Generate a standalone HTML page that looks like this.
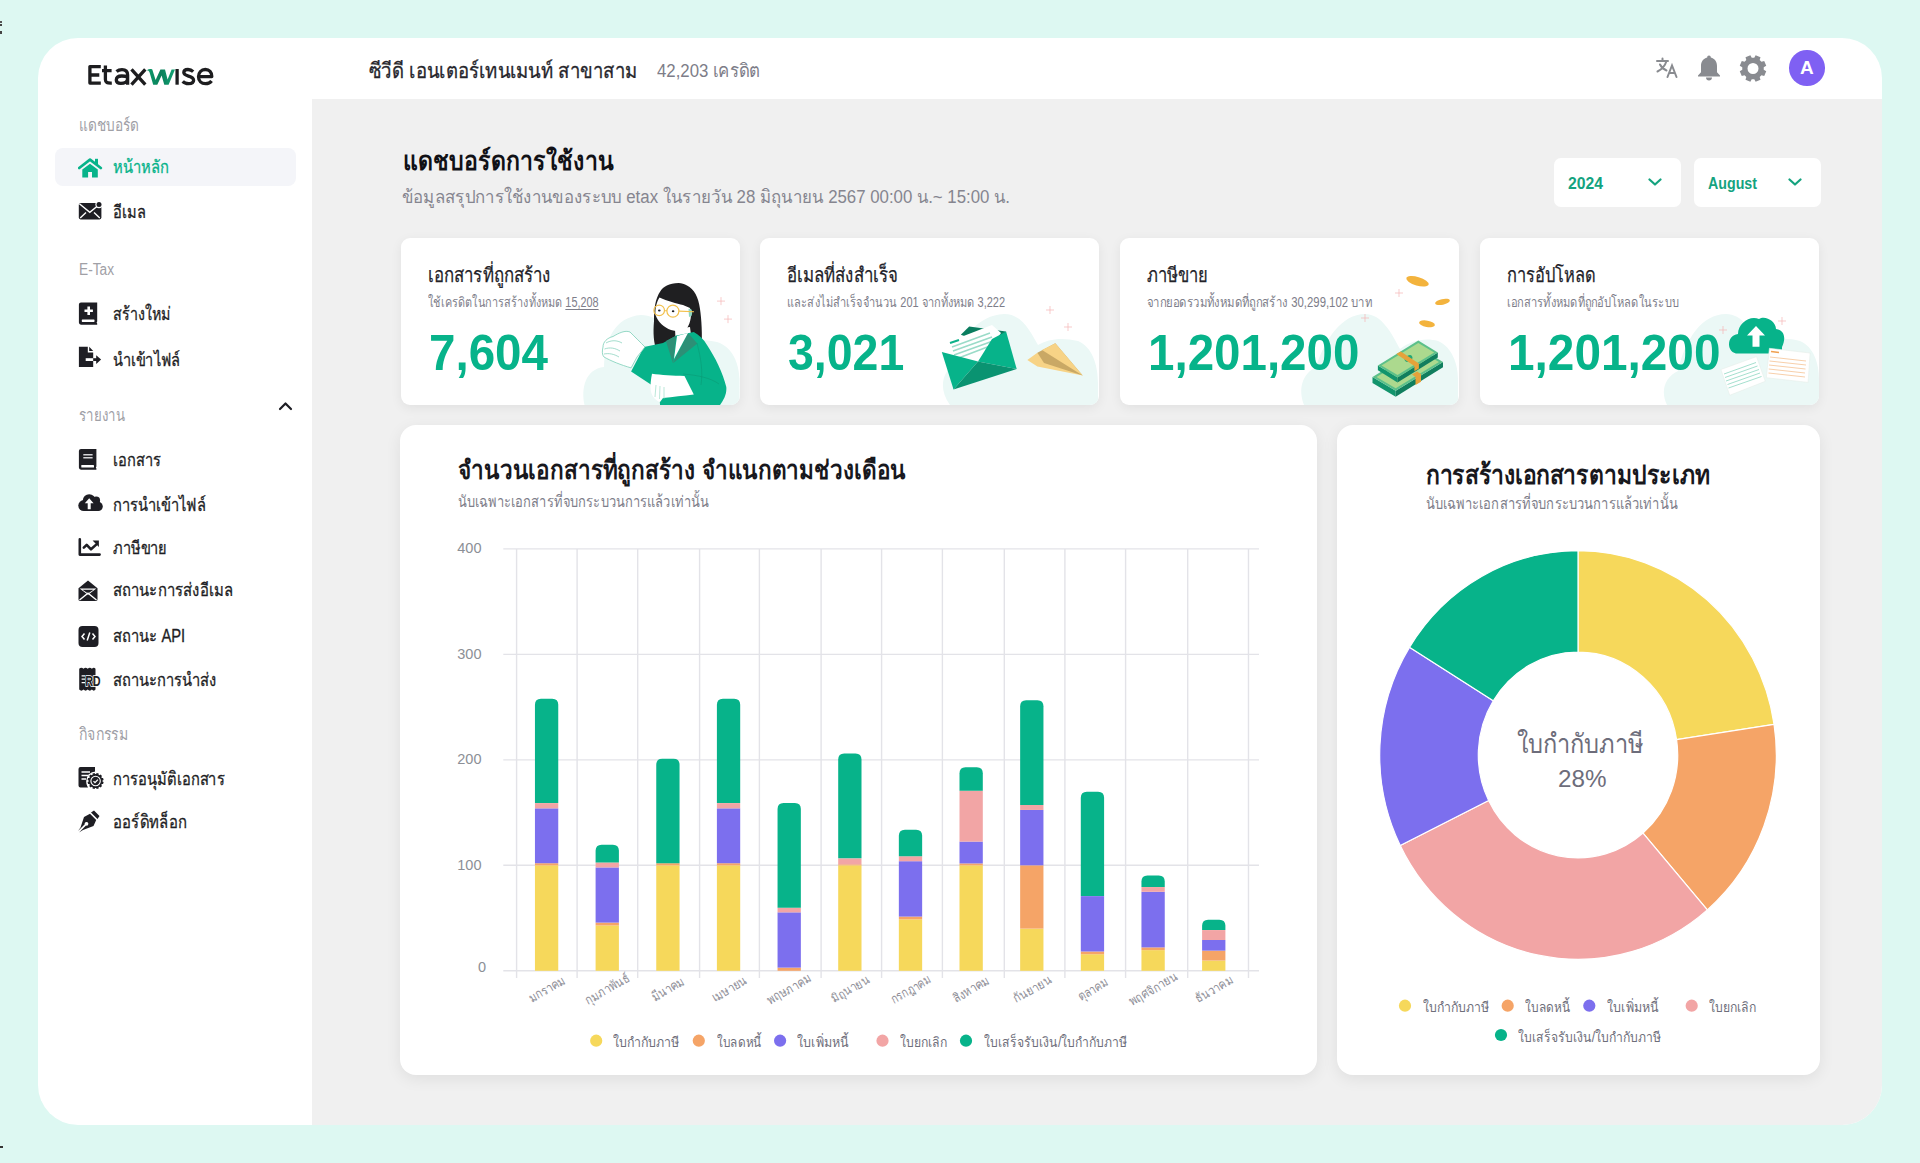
<!DOCTYPE html><html><head><meta charset="utf-8"><title>Etaxwise Dashboard</title><style>
*{margin:0;padding:0;box-sizing:border-box}
html,body{width:1920px;height:1163px;overflow:hidden}
body{background:#ddf8f2;font-family:"Liberation Sans",sans-serif;position:relative}
.panel{position:absolute;left:38px;top:38px;width:1843.5px;height:1087px;background:#fff;border-radius:40px}
.content{position:absolute;left:312px;top:99px;width:1569.5px;height:1026px;background:#f0f0f0;border-bottom-right-radius:40px}
.t{position:absolute;white-space:nowrap;transform-origin:0 50%;display:block}
.logo{position:absolute;font-weight:700;font-size:28px;line-height:28px;color:#1e1e22;white-space:nowrap;letter-spacing:0.2px}
.logo .w{color:#109a6c;font-style:italic;display:inline-block;transform:skewX(-6deg);margin:0 -1px 0 -1px}
.avatar{position:absolute;left:1789px;top:50px;width:35.5px;height:35.5px;border-radius:50%;background:#7f60f3;color:#fff;font-weight:700;font-size:19px;line-height:35.5px;text-align:center}
.active{position:absolute;left:54.5px;top:148px;width:241.5px;height:38px;border-radius:8px;background:#f4f5f9}
.dd{position:absolute;top:158.3px;height:48.8px;background:#fff;border-radius:7px}
.card{position:absolute;top:238.2px;width:339px;height:166.8px;background:#fff;border-radius:9px;box-shadow:0 3px 12px rgba(0,0,0,0.065);overflow:hidden}
.bigcard{position:absolute;top:425.3px;height:650.2px;background:#fff;border-radius:16px;box-shadow:0 4px 16px rgba(0,0,0,0.075)}
.ov{position:absolute;left:0;top:0;pointer-events:none}
.yl{font-size:14.5px;line-height:15px;color:#8c8f96;text-align:right}
.xl{position:absolute;white-space:nowrap;font-size:13px;line-height:13px;color:#8d8d96;transform:translate(-50%,-50%) rotate(-30deg)}
u{text-decoration:underline;text-underline-offset:2px}
</style></head><body><div class="panel"></div>
<div style="position:absolute;left:0;top:21px;width:1.6px;height:2px;background:#555"></div><div style="position:absolute;left:0;top:24px;width:1.6px;height:2px;background:#444"></div><div style="position:absolute;left:0;top:31.2px;width:1.6px;height:2.4px;background:#444"></div><div style="position:absolute;left:0;top:1146px;width:3px;height:1.6px;background:#333"></div>
<div class="content"></div>
<svg style="position:absolute;left:0;top:0" width="230" height="100" viewBox="0 0 230 100">
<defs><linearGradient id="lg" x1="0" y1="0" x2="1" y2="0"><stop offset="0" stop-color="#0c9a6a"/><stop offset="0.5" stop-color="#0b7f5a"/><stop offset="1" stop-color="#12a676"/></linearGradient></defs>
<g fill="none" stroke="#1d1d1f" stroke-width="3.3" stroke-linecap="butt" stroke-linejoin="round">
<path d="M100.8 66.6 H89.9 V83.1 H100.8 M89.9 75 H99.3"/>
<path d="M105.4 65.6 V79.5 C105.4 82.6 107 83.3 111.8 83.1 M102 70.6 H111.6"/>
<path d="M116.5 71.5 C118.3 70 120 69.6 122 69.6 C125.5 69.6 127.6 71.4 127.6 75 V84.7 M127.6 78.5 C127.6 76.6 124.8 76 121.8 76 C118 76 116.3 77.6 116.3 80 C116.3 82.3 118 83.4 120.8 83.4 C124.6 83.4 127.6 81.5 127.6 78.5"/>
<path d="M131.5 69.3 L145.3 84.7 M145.3 69.3 L131.5 84.7"/>
<path d="M177.1 69 V84.7"/>
<path d="M193.2 71.6 C191.5 70 189.8 69.5 188 69.5 C185 69.5 183.8 71 183.8 72.6 C183.8 77 193.6 75.2 193.6 80.2 C193.6 82.4 191.6 83.6 188.6 83.6 C186 83.6 184 82.7 182.7 81.3"/>
<path d="M198.9 76.6 H211.8 C211.8 72.4 209.3 69.5 205.3 69.5 C201.3 69.5 198.5 72.6 198.5 76.8 C198.5 81 201.5 83.7 205.6 83.7 C208.2 83.7 210.2 82.7 211.6 80.9"/>
</g>
<path fill="url(#lg)" d="M146.9 70.3 C148.5 69 150.3 68.8 152.3 69.4 L155.6 80 L160.4 69.4 L165 69.4 L167.6 79.4 L171.6 69.4 L175 69.4 L168.6 84.7 L164.3 84.7 L161.6 75.5 L157.3 84.7 L153.2 84.7 L149.6 72.4 C149 71 148 70.4 146.9 70.3 Z"/>
</svg>
<span class="t" style="left:369.0px;top:59.5px;font-size:21px;line-height:21px;font-weight:400;color:#26262c;-webkit-text-stroke:0.3px #26262c;--w:268.7;transform:scaleX(0.8819);">ซีวีดี เอนเตอร์เทนเมนท์ สาขาสาม</span>
<span class="t" style="left:657.2px;top:61.1px;font-size:19px;line-height:19px;font-weight:400;color:#7d7d88;--w:103;transform:scaleX(0.8848);">42,203 เครดิต</span>
<svg style="position:absolute;left:1654px;top:55px" width="26" height="26" viewBox="0 0 26 26">
<g fill="none" stroke="#898b90" stroke-width="2" stroke-linecap="round">
<path d="M3 6 H14 M8.5 3.5 V6 M12.5 6 C11 11 7.5 14.5 3.5 16.5 M6 9.5 C7.5 12.5 10 14.5 12.5 15.5"/>
<path d="M13.5 22 L18 10.5 L22.5 22 M15.2 18 H20.8"/>
</g></svg>
<svg style="position:absolute;left:1697px;top:54px" width="24" height="28" viewBox="0 0 24 28">
<path fill="#898b90" d="M12 1.5 c1.2 0 1.8.8 1.8 1.9 c4 .9 6.2 4.4 6.2 8.6 v6.2 l3 3.3 v1 H1 v-1 l3-3.3 V12 c0-4.2 2.2-7.7 6.2-8.6 C10.2 2.3 10.8 1.5 12 1.5z M9 23.5 h6 c0 1.8-1.3 3-3 3 s-3-1.2-3-3z"/></svg>
<svg style="position:absolute;left:1738px;top:54px" width="30" height="30" viewBox="0 0 30 30"><path fill="#898b90" fill-rule="evenodd" d="M16.27 3.77 L17.63 1.26 L22.50 3.28 L21.69 6.02 L23.48 7.81 L26.22 7.00 L28.24 11.87 L25.73 13.23 L25.73 15.77 L28.24 17.13 L26.22 22.00 L23.48 21.19 L21.69 22.98 L22.50 25.72 L17.63 27.74 L16.27 25.23 L13.73 25.23 L12.37 27.74 L7.50 25.72 L8.31 22.98 L6.52 21.19 L3.78 22.00 L1.76 17.13 L4.27 15.77 L4.27 13.23 L1.76 11.87 L3.78 7.00 L6.52 7.81 L8.31 6.02 L7.50 3.28 L12.37 1.26 L13.73 3.77Z M20.50 14.50 A5.5 5.5 0 1 0 9.50 14.50 A5.5 5.5 0 1 0 20.50 14.50Z"/></svg>
<div class="avatar">A</div>
<div class="active"></div>
<span class="t" style="left:78.5px;top:116.9px;font-size:17px;line-height:17px;font-weight:400;color:#a0a0a6;--w:60.2;transform:scaleX(0.8027);">แดชบอร์ด</span>
<span class="t" style="left:78.5px;top:262.1px;font-size:16px;line-height:16px;font-weight:400;color:#a0a0a6;--w:35;transform:scaleX(0.8556);">E-Tax</span>
<span class="t" style="left:78.5px;top:407.2px;font-size:17px;line-height:17px;font-weight:400;color:#a0a0a6;--w:46;transform:scaleX(0.7797);">รายงาน</span>
<span class="t" style="left:78.5px;top:725.5px;font-size:17px;line-height:17px;font-weight:400;color:#a0a0a6;--w:48.8;transform:scaleX(0.8271);">กิจกรรม</span>
<span class="t" style="left:112.5px;top:158.2px;font-size:18px;line-height:18px;font-weight:400;color:#07b38a;-webkit-text-stroke:0.3px #07b38a;--w:55.8;transform:scaleX(0.8206);">หน้าหลัก</span>
<span class="t" style="left:112.5px;top:203.4px;font-size:18px;line-height:18px;font-weight:400;color:#1e1e24;-webkit-text-stroke:0.3px #1e1e24;--w:32.5;transform:scaleX(0.8125);">อีเมล</span>
<span class="t" style="left:112.5px;top:305.0px;font-size:18px;line-height:18px;font-weight:400;color:#1e1e24;-webkit-text-stroke:0.3px #1e1e24;--w:57.8;transform:scaleX(0.7918);">สร้างใหม่</span>
<span class="t" style="left:112.5px;top:350.7px;font-size:18px;line-height:18px;font-weight:400;color:#1e1e24;-webkit-text-stroke:0.3px #1e1e24;--w:67.4;transform:scaleX(0.812);">นำเข้าไฟล์</span>
<span class="t" style="left:112.5px;top:451.4px;font-size:18px;line-height:18px;font-weight:400;color:#1e1e24;-webkit-text-stroke:0.3px #1e1e24;--w:48;transform:scaleX(0.8136);">เอกสาร</span>
<span class="t" style="left:112.5px;top:495.7px;font-size:18px;line-height:18px;font-weight:400;color:#1e1e24;-webkit-text-stroke:0.3px #1e1e24;--w:93;transform:scaleX(0.8158);">การนำเข้าไฟล์</span>
<span class="t" style="left:112.5px;top:538.5px;font-size:18px;line-height:18px;font-weight:400;color:#1e1e24;-webkit-text-stroke:0.3px #1e1e24;--w:54.4;transform:scaleX(0.8119);">ภาษีขาย</span>
<span class="t" style="left:112.5px;top:581.4px;font-size:18px;line-height:18px;font-weight:400;color:#1e1e24;-webkit-text-stroke:0.3px #1e1e24;--w:120;transform:scaleX(0.8276);">สถานะการส่งอีเมล</span>
<span class="t" style="left:112.5px;top:627.3px;font-size:18px;line-height:18px;font-weight:400;color:#1e1e24;-webkit-text-stroke:0.3px #1e1e24;--w:72.2;transform:scaleX(0.8203);">สถานะ API</span>
<span class="t" style="left:112.5px;top:670.5px;font-size:18px;line-height:18px;font-weight:400;color:#1e1e24;-webkit-text-stroke:0.3px #1e1e24;--w:103.8;transform:scaleX(0.8173);">สถานะการนำส่ง</span>
<span class="t" style="left:112.5px;top:769.7px;font-size:18px;line-height:18px;font-weight:400;color:#1e1e24;-webkit-text-stroke:0.3px #1e1e24;--w:111.8;transform:scaleX(0.8161);">การอนุมัติเอกสาร</span>
<span class="t" style="left:112.5px;top:812.7px;font-size:18px;line-height:18px;font-weight:400;color:#1e1e24;-webkit-text-stroke:0.3px #1e1e24;--w:73.8;transform:scaleX(0.8292);">ออร์ดิทล็อก</span>
<svg style="position:absolute;left:278px;top:400px" width="15" height="12" viewBox="0 0 15 12"><path d="M2 9 L7.5 3.5 L13 9" fill="none" stroke="#1e1e24" stroke-width="2.2" stroke-linecap="round" stroke-linejoin="round"/></svg>
<svg style="position:absolute;left:78px;top:157px" width="25" height="22" viewBox="0 0 25 22"><path fill="none" stroke="#07b38a" stroke-width="2.7" stroke-linecap="round" stroke-linejoin="round" d="M1.2 11 L12 2.6 L22.8 11"/><rect x="17" y="1.8" width="3" height="6" fill="#07b38a"/><path fill="#07b38a" d="M4.3 12.6 L12 6.7 L19.8 12.6 V20.5 H14 V15 H10.1 V20.5 H4.3 Z"/></svg>
<svg style="position:absolute;left:78px;top:201px" width="26" height="20" viewBox="0 0 26 20"><rect x="0.8" y="1.9" width="22.6" height="16.5" rx="1.8" fill="#1e1e24"/><path fill="none" stroke="#fff" stroke-width="1.4" d="M1.4 2.8 L11.8 11.3 L19.8 4.8 M2.2 17 L8 11.6 M21.8 17 L16 11.6"/><circle cx="21" cy="3.6" r="3.6" fill="#fff"/><circle cx="21" cy="3.6" r="2.5" fill="#1e1e24"/></svg>
<svg style="position:absolute;left:78px;top:302px" width="20" height="24" viewBox="0 0 20 24"><path fill="#1e1e24" d="M3 0.5 H19.2 V19.5 L18.6 20.5 L19.2 21.5 V22.8 H3 A2.2 2.2 0 0 1 0.9 20.6 V2.6 A2.1 2.1 0 0 1 3 0.5Z"/><rect x="3.8" y="17.5" width="12.7" height="2.4" rx="0.6" fill="#fff"/><path stroke="#fff" stroke-width="2.6" d="M10.7 4.5 V13 M6.5 8.8 H14.9"/></svg>
<svg style="position:absolute;left:78px;top:345px" width="25" height="23" viewBox="0 0 25 23"><path fill="#1e1e24" d="M0.9 1.7 H9.8 V7.4 H15.2 V21.9 H0.9 Z M11.2 1.7 L15.2 5.9 H11.2Z"/><rect x="7.7" y="13.2" width="7.5" height="2.8" fill="#fff"/><rect x="15.2" y="13.2" width="3.8" height="2.8" fill="#1e1e24"/><path fill="#1e1e24" d="M18.2 10.2 L23.1 14.6 L18.2 19Z"/></svg>
<svg style="position:absolute;left:78px;top:448px" width="20" height="23" viewBox="0 0 20 23"><path fill="#1e1e24" d="M3 0.9 H18.4 V18.6 L17.8 19.6 L18.4 20.6 V21.8 H3 A2.2 2.2 0 0 1 0.9 19.6 V3 A2.1 2.1 0 0 1 3 0.9Z"/><rect x="3.3" y="17" width="12.7" height="2.6" rx="0.6" fill="#fff"/><path stroke="#d4d4d8" stroke-width="1.6" d="M5.3 6.7 H14.6 M5.3 9.8 H14.6"/></svg>
<svg style="position:absolute;left:78px;top:492px" width="26" height="20" viewBox="0 0 26 20"><g fill="#1e1e24"><circle cx="5.8" cy="13.6" r="5.5"/><circle cx="11.2" cy="8.6" r="6.4"/><circle cx="18.2" cy="8.4" r="3.9"/><circle cx="20.2" cy="14.4" r="4.6"/><rect x="5.8" y="9" width="14.5" height="10"/></g><path fill="#fff" d="M11.2 6.3 L15.6 11.2 H12.7 V17.2 H9.7 V11.2 H6.8Z"/></svg>
<svg style="position:absolute;left:78px;top:538px" width="24" height="19" viewBox="0 0 24 19"><path fill="none" stroke="#1e1e24" stroke-width="2.6" stroke-linecap="round" stroke-linejoin="round" d="M1.8 1.4 V16.6 H21.6"/><path fill="none" stroke="#1e1e24" stroke-width="2.6" stroke-linecap="round" stroke-linejoin="round" d="M5.8 9.7 L8.7 6.8 L13 11.3 L18.2 6.6"/><path fill="#1e1e24" d="M14.6 2.6 H20.9 V8.9 Z"/></svg>
<svg style="position:absolute;left:78px;top:579px" width="21" height="23" viewBox="0 0 21 23"><path fill="#1e1e24" d="M0.5 9.2 L10 1.4 L19.5 9.2 V20.6 A1.4 1.4 0 0 1 18.1 22 H1.9 A1.4 1.4 0 0 1 0.5 20.6 Z"/><path fill="#fff" d="M1.6 9.6 H18.4 L10 15.8 Z"/><path fill="#1e1e24" d="M4.5 10.8 H15.5 L10 14.6 Z"/><path fill="none" stroke="#fff" stroke-width="1.3" d="M1.5 21 L10 14.2 L18.5 21"/></svg>
<svg style="position:absolute;left:78px;top:625px" width="22" height="23" viewBox="0 0 22 23"><rect x="0.5" y="1" width="20" height="21" rx="4" fill="#1e1e24"/><path fill="none" stroke="#fff" stroke-width="1.5" d="M6.5 8.5 L4 11.5 L6.5 14.5 M14.5 8.5 L17 11.5 L14.5 14.5 M11.8 7.5 L9.2 15.5"/></svg>
<svg style="position:absolute;left:78px;top:667px" width="26" height="25" viewBox="0 0 26 25"><path fill="#1e1e24" d="M1.2 1.8 Q3.4 -0.4 5.5 1.8 Q7.6 -0.4 9.7 1.8 Q11.8 -0.4 13.9 1.8 Q15.9 -0.4 17.5 1.8 V22.6 Q15.9 24.8 13.9 22.6 Q11.8 24.8 9.7 22.6 Q7.6 24.8 5.5 22.6 Q3.4 24.8 1.2 22.6 Z"/><path stroke="#fff" stroke-width="1.3" d="M3.6 8.9 H7 M3.6 12.2 H7 M3.6 15.7 H7"/><text transform="scale(0.72 1)" x="10.1" y="19.2" font-family="Liberation Sans" font-size="15" font-weight="700" fill="#1e1e24" stroke="#fff" stroke-width="1.5" paint-order="stroke" letter-spacing="-0.4">RD</text></svg>
<svg style="position:absolute;left:78px;top:766px" width="27" height="25" viewBox="0 0 27 25"><path fill="#1e1e24" d="M2.5 1 H17 V9 A8 8 0 0 0 10 21.5 H2.5 A2 2 0 0 1 0.5 19.5 V3 A2 2 0 0 1 2.5 1Z"/><path stroke="#fff" stroke-width="1.5" d="M3.5 6 H12 M3.5 9.5 H10 M3.5 13 H8"/><circle cx="17.6" cy="15" r="9.4" fill="#fff"/><path fill="#1e1e24" fill-rule="evenodd" d="M18.14 8.12 L18.66 6.97 L20.70 7.52 L20.57 8.77 L21.51 9.31 L22.53 8.57 L24.03 10.07 L23.29 11.09 L23.83 12.03 L25.08 11.90 L25.63 13.94 L24.48 14.46 L24.48 15.54 L25.63 16.06 L25.08 18.10 L23.83 17.97 L23.29 18.91 L24.03 19.93 L22.53 21.43 L21.51 20.69 L20.57 21.23 L20.70 22.48 L18.66 23.03 L18.14 21.88 L17.06 21.88 L16.54 23.03 L14.50 22.48 L14.63 21.23 L13.69 20.69 L12.67 21.43 L11.17 19.93 L11.91 18.91 L11.37 17.97 L10.12 18.10 L9.57 16.06 L10.72 15.54 L10.72 14.46 L9.57 13.94 L10.12 11.90 L11.37 12.03 L11.91 11.09 L11.17 10.07 L12.67 8.57 L13.69 9.31 L14.63 8.77 L14.50 7.52 L16.54 6.97 L17.06 8.12Z M17.70 15.00 A0.1 0.1 0 1 0 17.50 15.00 A0.1 0.1 0 1 0 17.70 15.00Z"/><circle cx="17.6" cy="15" r="4.7" fill="none" stroke="#fff" stroke-width="1.1"/><path d="M15.5 15.1 L17 16.6 L19.9 13.6" fill="none" stroke="#fff" stroke-width="1.3"/></svg>
<svg style="position:absolute;left:78px;top:810px" width="22" height="23" viewBox="0 0 22 23"><path fill="#1e1e24" d="M13 2.5 L16 0.5 L21.5 6 L19.5 9 Z M12 3.8 L18.2 10 L15.5 16 L5 20 L1 22.5 L8 15.5 A1.8 1.8 0 1 0 6.8 14.3 L-0.2 21.3 L2.5 17.5 L6 7Z"/></svg>
<span class="t" style="left:402.5px;top:147.6px;font-size:26px;line-height:26px;font-weight:700;color:#111116;--w:210.8;transform:scaleX(0.8857);">แดชบอร์ดการใช้งาน</span>
<span class="t" style="left:402.3px;top:187.7px;font-size:18px;line-height:18px;font-weight:400;color:#85858f;--w:608;transform:scaleX(0.9344);">ข้อมูลสรุปการใช้งานของระบบ etax ในรายวัน 28 มิถุนายน 2567 00:00 น.~ 15:00 น.</span>
<div class="dd" style="left:1553.5px;width:127.3px"></div>
<span class="t" style="left:1567.5px;top:175.0px;font-size:16.5px;line-height:16.5px;font-weight:700;color:#14a37f;--w:35;transform:scaleX(0.9532);">2024</span>
<svg style="position:absolute;left:1647.5px;top:176px" width="14" height="12" viewBox="0 0 14 12"><path d="M1.5 3.5 L7 8.5 L12.5 3.5" fill="none" stroke="#14a37f" stroke-width="2.2" stroke-linecap="round" stroke-linejoin="round"/></svg>
<div class="dd" style="left:1694px;width:126.6px"></div>
<span class="t" style="left:1708.0px;top:175.0px;font-size:16.5px;line-height:16.5px;font-weight:700;color:#14a37f;--w:49;transform:scaleX(0.8622);">August</span>
<svg style="position:absolute;left:1788px;top:176px" width="14" height="12" viewBox="0 0 14 12"><path d="M1.5 3.5 L7 8.5 L12.5 3.5" fill="none" stroke="#14a37f" stroke-width="2.2" stroke-linecap="round" stroke-linejoin="round"/></svg>
<div class="card" style="left:401px"><svg width="339" height="166" viewBox="0 0 339 166" style="position:absolute;left:0;top:0.8px">
<path fill="#ebf8f6" d="M183.5 166 C180 150 184 130 203 128 C204 100 214 78 240 76 C258 76 266 90 270 104 C282 100 300 100 316 103 C332 108 338 125 338.5 140 L338.5 166 Z"/>
<path d="M316 62.1 H324 M320 58.1 V66.1" stroke="#f5b4b4" stroke-width="0.7"/> <path d="M323 80.1 H331 M327 76.1 V84.1" stroke="#f5b4b4" stroke-width="0.7"/>
<path fill="#1f1f21" d="M277.7 44.1 C268 44.5 262 48 259.5 52 C254 60 253 70 253 82 C252 94 252.5 104 256 112 L261 117 L300.5 110 C301.5 96 300.5 80 299 70 C297.5 58 293 50 286 46.5 C283.5 45 280.5 44.1 277.7 44.1 Z"/>
<path fill="#ffffff" d="M258.5 58.5 C266 62 276 64.5 282 66 L289 69 C291 75 290 84 285.5 90 C281 92.5 275 92.5 270 91 C263 88.5 257 83 254.5 76 C254 70 255.5 63 258.5 58.5 Z"/>
<path fill="#ffffff" d="M274 90 L289 88 L290 96 L293 106 L275 110 Z"/>
<path fill="#8fd6c0" d="M287.5 70 C291 69 292 73 290.5 77 L288 78 Z"/>
<circle cx="258.2" cy="71.4" r="5.3" fill="none" stroke="#f2c14e" stroke-width="1.2"/>
<circle cx="271.9" cy="72.1" r="6" fill="none" stroke="#f2c14e" stroke-width="1.2"/>
<path d="M263.5 71.7 H266 M277.9 72.1 L293 72.8" stroke="#f2c14e" stroke-width="1.1"/>
<path fill="#1f1f21" d="M257 71.5 a1.3 1 0 1 0 2.6 0 a1.3 1 0 1 0 -2.6 0Z M270.8 72.3 a1.3 1 0 1 0 2.6 0 a1.3 1 0 1 0 -2.6 0Z"/>
<path fill="#07b38a" d="M275.4 96.4 L292.8 92.9 C298 96 303 100 306 106 C314 118 322 134 325.3 148 C326 156 322 162 318.3 167 L259.1 167 L258 150 L251 146.3 L230.1 132.4 L242.9 108 L262 104 Z"/>
<path fill="#2d8f76" d="M264.9 102 L275.4 96.4 L272 124.3 Z M287 94 L296.3 104.5 L271.9 124.3 Z"/>
<path fill="#ffffff" d="M276 97 L287 94 L273 120 Z"/>
<path fill="none" stroke="#0a9a76" stroke-width="0.6" d="M296 104 C300 120 302 132 300 146 M282 135 C296 136 310 139 318 145"/>
<path fill="#ffffff" stroke="#7ccfb8" stroke-width="0.8" d="M244 108 C240 104 234 98 229 93 C224 91 218 94 212 97.5 C206 99 202 103 202 108 C201 112 201 116 203 118 C210 122 220 126 230.1 128.9 L236 118 Z"/>
<path fill="none" stroke="#7ccfb8" stroke-width="0.7" d="M205 104 C210 101 216 101 221 104 M203.5 110 C209 108 214 109 219 112 M203 115 C208 114 213 115 218 118"/>
<path fill="#ffffff" d="M251 134.7 C260 136 272 136.5 283.5 137 L292.8 155.6 C282 157 272 158 262 159 L259 163 C255 162 251 158 249.8 152.1 C249 146 250 140 251 134.7 Z"/>
<path fill="none" stroke="#8fd6c0" stroke-width="0.6" d="M255 146 L254 158 M259 147 L258.5 160 M263 148 L263 160"/>
</svg></div>
<div class="card" style="left:760px"><svg width="339" height="166" viewBox="0 0 339 166" style="position:absolute;left:0;top:0.8px">
<path fill="#ebf8f6" d="M190 166 C178 150 182 132 196 124 C200 100 218 76 244 75 C262 75 270 92 278 106 C288 100 302 98 318 102 C332 108 338 125 338 145 L338 166 Z"/>
<path d="M286 71 H294 M290 67 V75" stroke="#f5b4b4" stroke-width="0.7"/> <path d="M304 88 H312 M308 84 V92" stroke="#f5b4b4" stroke-width="0.7"/>
<path fill="#0a7d5f" d="M200.8 95.8 L209.2 87.4 L246 92.4 L240 110 Z"/>
<path fill="#ffffff" d="M188 103 L232 86 L241 94 L222 122 L194 120 Z"/>
<path stroke="#9adbc8" stroke-width="1.6" d="M192 108 L230 94 M193 112 L232 98 M194 116 L233 102 M196 120 L230 107"/>
<path stroke="#0bb289" stroke-width="2" d="M190 104 L199 101"/>
<path fill="#07b38a" d="M181.8 113.1 L218 122.6 L193.5 150.6 Z"/>
<path fill="#07b38a" d="M246.1 92.4 L256.7 129.9 L218 122.6 L232 100 Z"/>
<path fill="#0a9371" d="M193.5 150.6 L218 122.6 L256.7 129.9 Z"/>
<path fill="#f7d386" d="M267.3 121 L277.4 113.7 L322.7 136.6 L277.4 127.6 Z"/>
<path fill="#c9a865" d="M277.4 113.7 L295.3 104.2 L322.7 136.6 L284 124 Z"/>
<path fill="#f7d386" d="M282 111 L295.3 104.2 L322.7 136.6 Z"/>
</svg></div>
<div class="card" style="left:1120px"><svg width="339" height="166" viewBox="0 0 339 166" style="position:absolute;left:0;top:0.8px">
<path fill="#ebf8f6" d="M184 166 C178 150 182 135 196 128 C205 100 222 75 245 75 C262 75 272 95 280 110 C290 102 305 98 318 102 C332 108 338 125 338 140 L338 166 Z"/>
<path d="M275 54 H283 M279 50 V58" stroke="#f5b4b4" stroke-width="0.7"/> <path d="M241 79 H249 M245 75 V83" stroke="#f5b4b4" stroke-width="0.7"/>
<ellipse cx="297.5" cy="42.3" rx="11.6" ry="4.3" transform="rotate(16 297.5 42.3)" fill="#f3b33d"/>
<ellipse cx="322.5" cy="62.9" rx="7.5" ry="2.8" transform="rotate(-12 322.5 62.9)" fill="#f3b33d"/>
<ellipse cx="307" cy="84.8" rx="8" ry="3.2" transform="rotate(10 307 84.8)" fill="#f3b33d"/>
<path fill="#13946c" d="M252.5 138 L275.7 151.8 L275.7 157.8 L252.5 144 Z"/>
<path fill="#117e5e" d="M275.7 151.8 L323 122.9 L323 128.3 L275.7 157.8 Z"/>
<path fill="#5cc08a" d="M252.5 138 L299.8 109.1 L323 122.9 L275.7 151.8 Z"/>
<path fill="#acd98e" d="M256.5 138 L299.8 111.6 L319 122.9 L275.7 149.3 Z"/>
<path fill="#13946c" d="M257.9 126.5 L277.5 138.6 L277.5 143.4 L257.9 131.3 Z"/>
<path fill="#117e5e" d="M277.5 138.6 L317.8 113.6 L317.8 118.4 L277.5 143.4 Z"/>
<path fill="#5cc08a" d="M257.9 126.5 L298.3 101.5 L317.8 113.6 L277.5 138.6 Z"/>
<path fill="#acd98e" d="M261.5 126.5 L298.3 104 L314.2 113.6 L277.5 136.1 Z"/>
<ellipse cx="288.5" cy="119.5" rx="4.2" ry="2.8" transform="rotate(-30 288.5 119.5)" fill="#22a877"/>
<path fill="#e6a23a" d="M276.3 115.1 L280.8 112.4 L298.9 124.4 L294.4 127.1 Z M294.4 127.1 L298.9 124.4 L298.9 129.5 L294.4 132.3 Z M292 135.5 L297 132.5 L301 135 L301 142.8 L295.5 146 L295.5 138 Z"/>
</svg></div>
<div class="card" style="left:1480px"><svg width="339" height="166" viewBox="0 0 339 166" style="position:absolute;left:0;top:0.8px">
<path fill="#ebf8f6" d="M187 166 C180 152 185 138 198 132 C205 100 222 75 246 75 C262 75 272 92 278 104 C290 100 306 98 320 102 C334 108 339 125 339 140 L339 166 Z"/>
<path d="M239 91 H247 M243 87 V95" stroke="#f5b4b4" stroke-width="0.7"/> <path d="M298 82 H306 M302 78 V86" stroke="#f5b4b4" stroke-width="0.7"/>
<path fill="#07b38a" d="M258 114.5 C246 114.5 246 96 258 95 C258 84 270 76 279 80 C285 76 296 82 296 90 C305 91 306 100 302 108 L302 114.5 Z"/>
<path fill="#ffffff" d="M276 87 L285 96.5 L279.5 96.5 L279.5 107.8 L272.5 107.8 L272.5 96.5 L267 96.5 Z"/>
<path fill="#ffffff" stroke="#e5efe9" stroke-width="0.6" d="M240.9 130.5 L276.5 117.6 L285.3 142.3 L249.7 156.3 Z"/>
<path stroke="#9adbc8" stroke-width="0.9" d="M244 135 L276 123.5 M245 138.5 L277.5 127 M246 142 L279 130.5 M247.5 145.5 L280 134 M248.5 149 L281.5 137.5"/>
<path fill="#ffffff" stroke="#e5efe9" stroke-width="0.6" d="M289.4 109.3 L330.1 114 L328.1 143.4 L286.3 138.7 Z"/>
<path stroke="#f6c9a0" stroke-width="0.9" d="M290 118 L326 122 M289.5 122 L326 126 M289 126 L325.5 130 M288.7 130 L325 134 M288.5 134 L325 138"/>
<path stroke="#f0a050" stroke-width="1.6" d="M291 112.5 L299 113.5"/>
</svg></div>
<span class="t" style="left:427.8px;top:265.0px;font-size:20px;line-height:20px;font-weight:400;color:#232329;-webkit-text-stroke:0.25px #232329;--w:122.8;transform:scaleX(0.8411);">เอกสารที่ถูกสร้าง</span>
<span class="t" style="left:427.8px;top:294.8px;font-size:14px;line-height:14px;font-weight:400;color:#7e7e8a;--w:170.6;transform:scaleX(0.7764);">ใช้เครดิตในการสร้างทั้งหมด <u>15,208</u></span>
<span class="t" style="left:428.5px;top:327.9px;font-size:50px;line-height:50px;font-weight:700;color:#07b38a;--w:119;transform:scaleX(0.951);">7,604</span>
<span class="t" style="left:786.8px;top:265.0px;font-size:20px;line-height:20px;font-weight:400;color:#232329;-webkit-text-stroke:0.25px #232329;--w:111.4;transform:scaleX(0.8439);">อีเมลที่ส่งสำเร็จ</span>
<span class="t" style="left:786.8px;top:294.8px;font-size:14px;line-height:14px;font-weight:400;color:#7e7e8a;--w:218.1;transform:scaleX(0.7872);">และส่งไม่สำเร็จจำนวน 201 จากทั้งหมด 3,222</span>
<span class="t" style="left:787.5px;top:327.9px;font-size:50px;line-height:50px;font-weight:700;color:#07b38a;--w:116.2;transform:scaleX(0.9287);">3,021</span>
<span class="t" style="left:1146.8px;top:265.0px;font-size:20px;line-height:20px;font-weight:400;color:#232329;-webkit-text-stroke:0.25px #232329;--w:61.2;transform:scaleX(0.827);">ภาษีขาย</span>
<span class="t" style="left:1146.8px;top:294.8px;font-size:14px;line-height:14px;font-weight:400;color:#7e7e8a;--w:225.3;transform:scaleX(0.8108);">จากยอดรวมทั้งหมดที่ถูกสร้าง 30,299,102 บาท</span>
<span class="t" style="left:1147.5px;top:327.9px;font-size:50px;line-height:50px;font-weight:700;color:#07b38a;--w:211.4;transform:scaleX(0.9504);">1,201,200</span>
<span class="t" style="left:1506.8px;top:265.0px;font-size:20px;line-height:20px;font-weight:400;color:#232329;-webkit-text-stroke:0.25px #232329;--w:88.7;transform:scaleX(0.8213);">การอัปโหลด</span>
<span class="t" style="left:1506.8px;top:294.8px;font-size:14px;line-height:14px;font-weight:400;color:#7e7e8a;--w:172;transform:scaleX(0.7926);">เอกสารทั้งหมดที่ถูกอัปโหลดในระบบ</span>
<span class="t" style="left:1507.5px;top:327.9px;font-size:50px;line-height:50px;font-weight:700;color:#07b38a;--w:212.5;transform:scaleX(0.9553);">1,201,200</span>
<div class="bigcard" style="left:400px;width:916.8px"></div>
<div class="bigcard" style="left:1336.5px;width:483.5px"></div>
<span class="t" style="left:457.8px;top:457.3px;font-size:26px;line-height:26px;font-weight:700;color:#18181d;--w:448;transform:scaleX(0.8661);">จำนวนเอกสารที่ถูกสร้าง จำแนกตามช่วงเดือน</span>
<span class="t" style="left:457.8px;top:494.4px;font-size:16px;line-height:16px;font-weight:400;color:#7e7e8a;--w:250.5;transform:scaleX(0.8055);">นับเฉพาะเอกสารที่จบกระบวนการแล้วเท่านั้น</span>
<span class="t" style="left:1426.0px;top:462.1px;font-size:27px;line-height:27px;font-weight:700;color:#18181d;--w:284.2;transform:scaleX(0.8484);">การสร้างเอกสารตามประเภท</span>
<span class="t" style="left:1426.0px;top:496.2px;font-size:16px;line-height:16px;font-weight:400;color:#7e7e8a;--w:251.4;transform:scaleX(0.8084);">นับเฉพาะเอกสารที่จบกระบวนการแล้วเท่านั้น</span>
<svg class="ov" width="1920" height="1163" viewBox="0 0 1920 1163"><path d="M503.3 970.80 H1259" stroke="#e3e3e8" stroke-width="1.4"/><path d="M503.3 865.32 H1259" stroke="#e3e3e8" stroke-width="1.4"/><path d="M503.3 759.84 H1259" stroke="#e3e3e8" stroke-width="1.4"/><path d="M503.3 654.36 H1259" stroke="#e3e3e8" stroke-width="1.4"/><path d="M503.3 548.88 H1259" stroke="#e3e3e8" stroke-width="1.4"/><path d="M516.60 548.88 V978" stroke="#e3e3e8" stroke-width="1.4"/><path d="M577.10 548.88 V978" stroke="#e3e3e8" stroke-width="1.4"/><path d="M637.70 548.88 V978" stroke="#e3e3e8" stroke-width="1.4"/><path d="M699.60 548.88 V978" stroke="#e3e3e8" stroke-width="1.4"/><path d="M759.40 548.88 V978" stroke="#e3e3e8" stroke-width="1.4"/><path d="M821.10 548.88 V978" stroke="#e3e3e8" stroke-width="1.4"/><path d="M881.60 548.88 V978" stroke="#e3e3e8" stroke-width="1.4"/><path d="M942.40 548.88 V978" stroke="#e3e3e8" stroke-width="1.4"/><path d="M1004.30 548.88 V978" stroke="#e3e3e8" stroke-width="1.4"/><path d="M1064.90 548.88 V978" stroke="#e3e3e8" stroke-width="1.4"/><path d="M1125.60 548.88 V978" stroke="#e3e3e8" stroke-width="1.4"/><path d="M1187.70 548.88 V978" stroke="#e3e3e8" stroke-width="1.4"/><path d="M1248.50 548.88 V978" stroke="#e3e3e8" stroke-width="1.4"/><rect x="534.95" y="865.32" width="23.3" height="105.48" fill="#f6d85b"/><rect x="534.95" y="863.21" width="23.3" height="2.11" fill="#f5a467"/><rect x="534.95" y="808.36" width="23.3" height="54.85" fill="#7c6fee"/><rect x="534.95" y="803.09" width="23.3" height="5.27" fill="#f2a5a5"/><path d="M534.95 803.09 V704.66 Q534.95 698.66 540.95 698.66 H552.25 Q558.25 698.66 558.25 704.66 V803.09 Z" fill="#07b38a"/><rect x="595.60" y="925.44" width="23.3" height="45.36" fill="#f6d85b"/><rect x="595.60" y="922.60" width="23.3" height="2.85" fill="#f5a467"/><rect x="595.60" y="867.43" width="23.3" height="55.17" fill="#7c6fee"/><rect x="595.60" y="862.47" width="23.3" height="4.96" fill="#f2a5a5"/><path d="M595.60 862.47 V850.86 Q595.60 844.86 601.60 844.86 H612.90 Q618.90 844.86 618.90 850.86 V862.47 Z" fill="#07b38a"/><rect x="656.25" y="865.32" width="23.3" height="105.48" fill="#f6d85b"/><rect x="656.25" y="863.21" width="23.3" height="2.11" fill="#f5a467"/><path d="M656.25 863.21 V764.79 Q656.25 758.79 662.25 758.79 H673.55 Q679.55 758.79 679.55 764.79 V863.21 Z" fill="#07b38a"/><rect x="716.90" y="865.32" width="23.3" height="105.48" fill="#f6d85b"/><rect x="716.90" y="863.21" width="23.3" height="2.11" fill="#f5a467"/><rect x="716.90" y="808.36" width="23.3" height="54.85" fill="#7c6fee"/><rect x="716.90" y="803.09" width="23.3" height="5.27" fill="#f2a5a5"/><path d="M716.90 803.09 V704.66 Q716.90 698.66 722.90 698.66 H734.20 Q740.20 698.66 740.20 704.66 V803.09 Z" fill="#07b38a"/><rect x="777.55" y="967.64" width="23.3" height="3.16" fill="#f5a467"/><rect x="777.55" y="912.36" width="23.3" height="55.27" fill="#7c6fee"/><rect x="777.55" y="907.72" width="23.3" height="4.64" fill="#f2a5a5"/><path d="M777.55 907.72 V808.88 Q777.55 802.88 783.55 802.88 H794.85 Q800.85 802.88 800.85 808.88 V907.72 Z" fill="#07b38a"/><rect x="838.20" y="865.32" width="23.3" height="105.48" fill="#f6d85b"/><rect x="838.20" y="864.27" width="23.3" height="1.05" fill="#f5a467"/><rect x="838.20" y="858.36" width="23.3" height="5.91" fill="#f2a5a5"/><path d="M838.20 858.36 V759.51 Q838.20 753.51 844.20 753.51 H855.50 Q861.50 753.51 861.50 759.51 V858.36 Z" fill="#07b38a"/><rect x="898.85" y="919.33" width="23.3" height="51.47" fill="#f6d85b"/><rect x="898.85" y="916.58" width="23.3" height="2.74" fill="#f5a467"/><rect x="898.85" y="861.21" width="23.3" height="55.38" fill="#7c6fee"/><rect x="898.85" y="856.25" width="23.3" height="4.96" fill="#f2a5a5"/><path d="M898.85 856.25 V835.77 Q898.85 829.77 904.85 829.77 H916.15 Q922.15 829.77 922.15 835.77 V856.25 Z" fill="#07b38a"/><rect x="959.50" y="865.32" width="23.3" height="105.48" fill="#f6d85b"/><rect x="959.50" y="863.42" width="23.3" height="1.90" fill="#f5a467"/><rect x="959.50" y="841.59" width="23.3" height="21.83" fill="#7c6fee"/><rect x="959.50" y="790.64" width="23.3" height="50.95" fill="#f2a5a5"/><path d="M959.50 790.64 V773.22 Q959.50 767.22 965.50 767.22 H976.80 Q982.80 767.22 982.80 773.22 V790.64 Z" fill="#07b38a"/><rect x="1020.15" y="928.61" width="23.3" height="42.19" fill="#f6d85b"/><rect x="1020.15" y="865.32" width="23.3" height="63.29" fill="#f5a467"/><rect x="1020.15" y="809.94" width="23.3" height="55.38" fill="#7c6fee"/><rect x="1020.15" y="804.99" width="23.3" height="4.96" fill="#f2a5a5"/><path d="M1020.15 804.99 V706.35 Q1020.15 700.35 1026.15 700.35 H1037.45 Q1043.45 700.35 1043.45 706.35 V804.99 Z" fill="#07b38a"/><rect x="1080.80" y="954.24" width="23.3" height="16.56" fill="#f6d85b"/><rect x="1080.80" y="951.50" width="23.3" height="2.74" fill="#f5a467"/><rect x="1080.80" y="896.12" width="23.3" height="55.38" fill="#7c6fee"/><path d="M1080.80 896.12 V797.80 Q1080.80 791.80 1086.80 791.80 H1098.10 Q1104.10 791.80 1104.10 797.80 V896.12 Z" fill="#07b38a"/><rect x="1141.45" y="950.13" width="23.3" height="20.67" fill="#f6d85b"/><rect x="1141.45" y="947.38" width="23.3" height="2.74" fill="#f5a467"/><rect x="1141.45" y="891.80" width="23.3" height="55.59" fill="#7c6fee"/><rect x="1141.45" y="887.05" width="23.3" height="4.75" fill="#f2a5a5"/><path d="M1141.45 887.05 V881.55 Q1141.45 875.55 1147.45 875.55 H1158.75 Q1164.75 875.55 1164.75 881.55 V887.05 Z" fill="#07b38a"/><rect x="1202.10" y="960.57" width="23.3" height="10.23" fill="#f6d85b"/><rect x="1202.10" y="950.65" width="23.3" height="9.92" fill="#f5a467"/><rect x="1202.10" y="940.00" width="23.3" height="10.65" fill="#7c6fee"/><rect x="1202.10" y="930.08" width="23.3" height="9.92" fill="#f2a5a5"/><path d="M1202.10 930.08 V925.85 Q1202.10 919.85 1208.10 919.85 H1219.40 Q1225.40 919.85 1225.40 925.85 V930.08 Z" fill="#07b38a"/><path d="M1578.00 550.70 A198.3 204.3 0 0 1 1774.07 724.45 L1676.58 739.61 A99.7 102.9 0 0 0 1578.00 652.10 Z" fill="#f6d85b" stroke="#ffffff" stroke-width="1.2" stroke-linejoin="bevel"/><path d="M1774.07 724.45 A198.3 204.3 0 0 1 1707.31 909.89 L1643.01 833.01 A99.7 102.9 0 0 0 1676.58 739.61 Z" fill="#f5a467" stroke="#ffffff" stroke-width="1.2" stroke-linejoin="bevel"/><path d="M1707.31 909.89 A198.3 204.3 0 0 1 1400.23 845.52 L1488.62 800.59 A99.7 102.9 0 0 0 1643.01 833.01 Z" fill="#f2a5a5" stroke="#ffffff" stroke-width="1.2" stroke-linejoin="bevel"/><path d="M1400.23 845.52 A198.3 204.3 0 0 1 1409.47 647.34 L1493.27 700.78 A99.7 102.9 0 0 0 1488.62 800.59 Z" fill="#7c6fee" stroke="#ffffff" stroke-width="1.2" stroke-linejoin="bevel"/><path d="M1409.47 647.34 A198.3 204.3 0 0 1 1578.00 550.70 L1578.00 652.10 A99.7 102.9 0 0 0 1493.27 700.78 Z" fill="#07b38a" stroke="#ffffff" stroke-width="1.2" stroke-linejoin="bevel"/><circle cx="596.2" cy="1040.7" r="6.1" fill="#f6d85b"/><circle cx="698.8" cy="1040.7" r="6.1" fill="#f5a467"/><circle cx="780.1" cy="1040.7" r="6.1" fill="#7c6fee"/><circle cx="882.5" cy="1040.7" r="6.1" fill="#f2a5a5"/><circle cx="966" cy="1040.7" r="6.1" fill="#07b38a"/><circle cx="1405" cy="1005.7" r="6.1" fill="#f6d85b"/><circle cx="1507.7" cy="1005.7" r="6.1" fill="#f5a467"/><circle cx="1589.3" cy="1005.7" r="6.1" fill="#7c6fee"/><circle cx="1691.7" cy="1005.7" r="6.1" fill="#f2a5a5"/><circle cx="1501" cy="1035" r="6.1" fill="#07b38a"/></svg>
<span class="t yl" style="left:430px;width:56px;top:959.7px">0</span>
<span class="t yl" style="left:430px;width:51.5px;top:857.8px">100</span>
<span class="t yl" style="left:430px;width:51.5px;top:752.3px">200</span>
<span class="t yl" style="left:430px;width:51.5px;top:646.9px">300</span>
<span class="t yl" style="left:430px;width:51.5px;top:541.4px">400</span>
<span class="xl" style="left:546.6px;top:989px;--w:40.4;transform:translate(-50%, -50%) rotate(-30deg) scaleX(0.8245);">มกราคม</span>
<span class="xl" style="left:607.2px;top:989px;--w:49.1;transform:translate(-50%, -50%) rotate(-30deg) scaleX(0.8322);">กุมภาพันธ์</span>
<span class="xl" style="left:667.9px;top:989px;--w:35.8;transform:translate(-50%, -50%) rotate(-30deg) scaleX(0.8326);">มีนาคม</span>
<span class="xl" style="left:728.5px;top:989px;--w:38.1;transform:translate(-50%, -50%) rotate(-30deg) scaleX(0.8283);">เมษายน</span>
<span class="xl" style="left:789.2px;top:989px;--w:49.1;transform:translate(-50%, -50%) rotate(-30deg) scaleX(0.8183);">พฤษภาคม</span>
<span class="xl" style="left:849.9px;top:989px;--w:42.1;transform:translate(-50%, -50%) rotate(-30deg) scaleX(0.842);">มิถุนายน</span>
<span class="xl" style="left:910.5px;top:989px;--w:44.5;transform:translate(-50%, -50%) rotate(-30deg) scaleX(0.7807);">กรกฎาคม</span>
<span class="xl" style="left:971.2px;top:989px;--w:39.8;transform:translate(-50%, -50%) rotate(-30deg) scaleX(0.8292);">สิงหาคม</span>
<span class="xl" style="left:1031.8px;top:989px;--w:41.6;transform:translate(-50%, -50%) rotate(-30deg) scaleX(0.849);">กันยายน</span>
<span class="xl" style="left:1092.5px;top:989px;--w:32.9;transform:translate(-50%, -50%) rotate(-30deg) scaleX(0.8024);">ตุลาคม</span>
<span class="xl" style="left:1153.1px;top:989px;--w:54.3;transform:translate(-50%, -50%) rotate(-30deg) scaleX(0.8354);">พฤศจิกายน</span>
<span class="xl" style="left:1213.8px;top:989px;--w:41.6;transform:translate(-50%, -50%) rotate(-30deg) scaleX(0.849);">ธันวาคม</span>
<span class="t" style="left:613.4px;top:1034.7px;font-size:14px;line-height:14px;font-weight:400;color:#6e6e7a;--w:66.4;transform:scaleX(0.8853);">ใบกำกับภาษี</span>
<span class="t" style="left:717.0px;top:1034.7px;font-size:14px;line-height:14px;font-weight:400;color:#6e6e7a;--w:44.5;transform:scaleX(0.8396);">ใบลดหนี้</span>
<span class="t" style="left:797.2px;top:1034.7px;font-size:14px;line-height:14px;font-weight:400;color:#6e6e7a;--w:51.8;transform:scaleX(0.8931);">ใบเพิ่มหนี้</span>
<span class="t" style="left:900.0px;top:1034.7px;font-size:14px;line-height:14px;font-weight:400;color:#6e6e7a;--w:47;transform:scaleX(0.8704);">ใบยกเลิก</span>
<span class="t" style="left:983.5px;top:1034.7px;font-size:14px;line-height:14px;font-weight:400;color:#6e6e7a;--w:142.5;transform:scaleX(0.8695);">ใบเสร็จรับเงิน/ใบกำกับภาษี</span>
<span class="t" style="left:1422.7px;top:999.8px;font-size:14px;line-height:14px;font-weight:400;color:#6e6e7a;--w:65.6;transform:scaleX(0.8747);">ใบกำกับภาษี</span>
<span class="t" style="left:1525.0px;top:999.8px;font-size:14px;line-height:14px;font-weight:400;color:#6e6e7a;--w:45;transform:scaleX(0.8491);">ใบลดหนี้</span>
<span class="t" style="left:1606.7px;top:999.8px;font-size:14px;line-height:14px;font-weight:400;color:#6e6e7a;--w:51.6;transform:scaleX(0.8897);">ใบเพิ่มหนี้</span>
<span class="t" style="left:1709.0px;top:999.8px;font-size:14px;line-height:14px;font-weight:400;color:#6e6e7a;--w:47;transform:scaleX(0.8704);">ใบยกเลิก</span>
<span class="t" style="left:1518.3px;top:1029.8px;font-size:14px;line-height:14px;font-weight:400;color:#6e6e7a;--w:142.4;transform:scaleX(0.8689);">ใบเสร็จรับเงิน/ใบกำกับภาษี</span>
<span class="t" style="left:1517.0px;top:730.8px;font-size:27px;line-height:27px;font-weight:400;color:#6d6d7b;--w:126.8;transform:scaleX(0.8745);">ใบกำกับภาษี</span>
<span class="t" style="left:1557.5px;top:767.4px;font-size:24px;line-height:24px;font-weight:400;color:#6d6d7b;--w:48.5;transform:scaleX(1.0094);">28%</span>
<script>
(function(){
  var els=document.querySelectorAll('.t');
  for(var i=0;i<els.length;i++){
    var e=els[i];var w=parseFloat(getComputedStyle(e).getPropertyValue('--w'));
    if(!w) continue;
    e.style.transform='none';
    var r=e.getBoundingClientRect().width;
    if(r>0){var s=w/r; if(s<0.45)s=0.45; if(s>1.6)s=1.6; e.style.transform='scaleX('+s.toFixed(4)+')';}
  }
  var xs=document.querySelectorAll('.xl');
  for(var i=0;i<xs.length;i++){
    var e=xs[i];var w=parseFloat(getComputedStyle(e).getPropertyValue('--w'));
    var r=e.offsetWidth;
    if(r>0&&w){var s=w/r; if(s<0.45)s=0.45; if(s>1.6)s=1.6; e.style.transform='translate(-50%,-50%) rotate(-30deg) scaleX('+s.toFixed(4)+')';}
  }
})();
</script>
</body></html>
